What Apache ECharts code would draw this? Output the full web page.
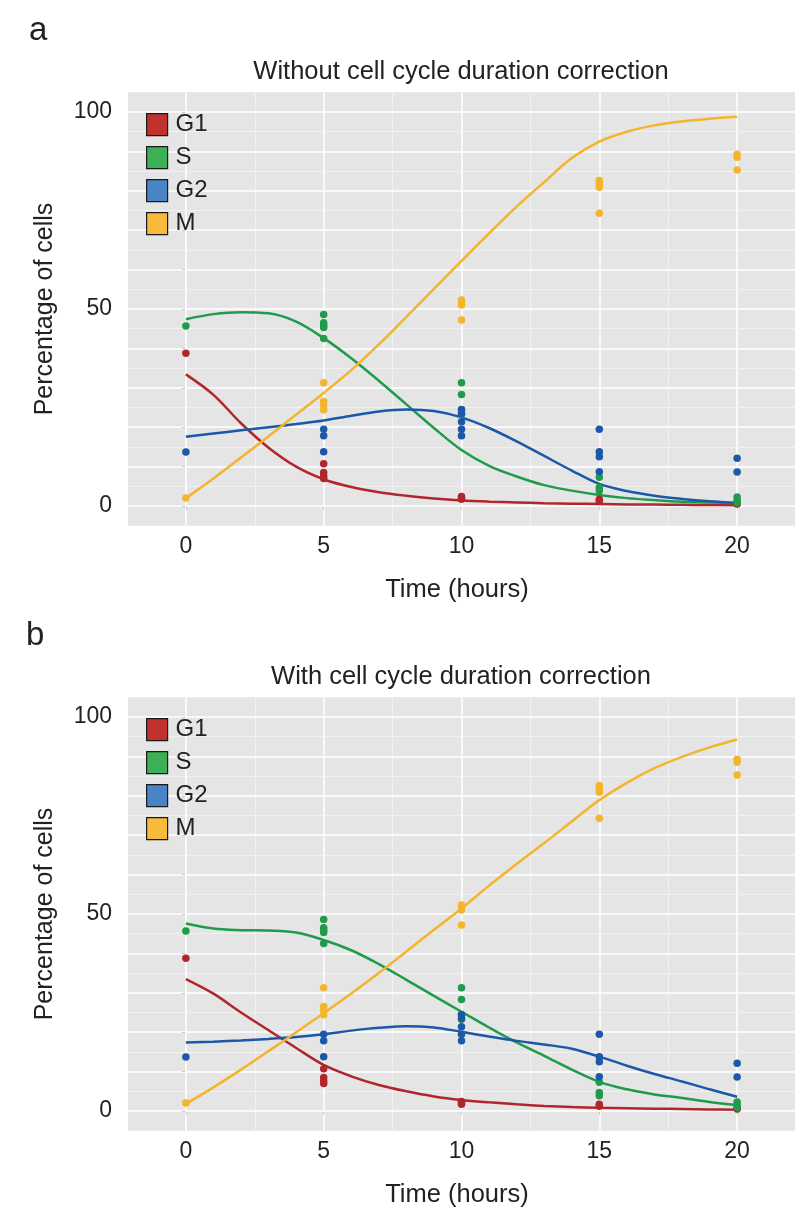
<!DOCTYPE html>
<html>
<head>
<meta charset="utf-8">
<script src="https://cdn.jsdelivr.net/npm/echarts@6/dist/echarts.min.js"></script>
<style>
html,body{margin:0;padding:0;background:#fff;}
#chart{width:800px;height:1209px;}
</style>
</head>
<body>
<div id="chart"></div>
<script>
// ---- Data ----
const phases = ['G1', 'S', 'G2', 'M'];
const times = [0, 5, 10, 15, 20];
// observed replicate values at each time point
const g1Obs = [[38.8], [10.7, 8.5, 7.6, 7.0], [2.4, 1.7, 2.0], [1.7, 1.2], [0.7, 0.5]];
const sObs  = [[45.7], [48.6, 46.5, 45.9, 45.3, 42.5], [31.3, 28.3, 24.5, 23.3], [7.3, 4.7, 3.9], [2.3, 1.4, 0.8]];
const g2Obs = [[13.7], [19.5, 17.8, 13.8], [24.4, 23.5, 21.4, 19.5, 17.8], [19.5, 13.8, 12.5, 8.7], [12.1, 8.6]];
const mObs  = [[2.0], [31.3, 26.5, 25.6, 24.4], [52.3, 51.6, 51.0, 47.2], [82.6, 81.7, 80.9, 74.3], [89.3, 88.5, 85.3]];

// model curves
const curveTimes = [0,1,2,3,4,5,6,7,8,9,10,11,12,13,14,15,16,17,18,19,20];
const topG1 = [33.4,28.2,21.0,14.8,10.0,6.8,4.8,3.5,2.6,1.9,1.4,1.1,0.9,0.7,0.6,0.5,0.4,0.35,0.3,0.25,0.2];
const topS  = [47.4,48.7,49.2,48.9,46.8,42.6,37.5,31.8,25.8,19.8,14.2,10.2,7.5,5.3,3.9,2.8,2.0,1.5,1.1,0.9,0.7];
const topG2 = [17.6,18.4,19.2,20.0,20.8,21.7,22.9,24.0,24.5,24.1,22.5,19.8,16.4,12.7,9.0,5.6,3.8,2.6,1.8,1.2,0.8];
const topM  = [2.0,7.0,12.3,17.7,23.2,28.7,34.5,41.0,48.0,55.1,62.2,69.2,76.0,82.2,88.3,92.5,95.0,96.6,97.6,98.3,98.8];

const botG1 = [33.5,29.8,25.0,20.5,16.0,11.7,8.8,6.6,5.0,3.7,2.8,2.2,1.7,1.3,1.0,0.8,0.7,0.6,0.5,0.4,0.3];
const botS  = [47.6,46.3,45.9,45.8,45.3,43.4,40.8,37.3,33.3,29.2,25.2,21.2,17.4,14.0,10.5,7.4,5.5,4.2,3.3,2.3,1.5];
const botG2 = [17.4,17.6,17.9,18.3,18.8,19.5,20.4,21.1,21.5,21.2,20.1,18.9,17.8,16.9,15.8,13.8,11.5,9.4,7.5,5.5,3.6];
const botM  = [1.8,6.0,10.5,15.2,20.0,24.8,29.8,35.0,40.5,46.0,51.4,57.2,62.7,68.0,73.5,78.9,83.3,87.0,89.9,92.3,94.3];

// axis ticks / labels / grid lines
const xTicks = [0, 5, 10, 15, 20];
const xMinor = [2.5, 7.5, 12.5, 17.5];
const yTicks = [0, 10, 20, 30, 40, 50, 60, 70, 80, 90, 100];
const yLabels = [0, 50, 100];
const yMinor = [5, 15, 25, 35, 45, 55, 65, 75, 85, 95];

const titles = ['Without cell cycle duration correction', 'With cell cycle duration correction'];
const panelLetters = ['a', 'b'];

// ---- Styles ----
const FONT = '"Liberation Sans", Arial, Helvetica, sans-serif';
const lineColors = {G1: '#b0262c', S: '#1f9b4b', G2: '#1b58a8', M: '#f3b52b'};
const legendColors = {G1: '#c1312e', S: '#3daf57', G2: '#4a84c6', M: '#f6bb3a'};

function pts(obs) {
  const out = [];
  obs.forEach((vals, i) => vals.forEach(v => out.push([times[i], v])));
  return out;
}
function curve(vals) { return curveTimes.map((t, i) => [t, vals[i]]); }

const obsByPhase = {G1: g1Obs, S: sObs, G2: g2Obs, M: mObs};
const curvesByPanel = [
  {G1: topG1, S: topS, G2: topG2, M: topM},
  {G1: botG1, S: botS, G2: botG2, M: botM}
];

const gridTops = [92.3, 697.3];
const gridH = 433.4;
const gridLeft = 128;
const gridW = 667;

const grids = [], xAxes = [], yAxes = [], series = [], legends = [], graphics = [];

gridTops.forEach((top, p) => {
  grids.push({left: gridLeft, top: top, width: gridW, height: gridH, show: true,
    backgroundColor: '#e5e5e5', borderWidth: 0, containLabel: false});
  xAxes.push({type: 'value', gridIndex: p, min: -2.1, max: 22.1,
    splitLine: {show: false}, axisLine: {show: false},
    axisTick: {show: true, length: 4, lineStyle: {color: '#333', width: 1}, customValues: xTicks},
    axisLabel: {customValues: xTicks, fontSize: 23, color: '#222', margin: 9, fontFamily: FONT}});
  yAxes.push({type: 'value', gridIndex: p, min: -5, max: 105,
    splitLine: {show: false}, axisLine: {show: false},
    axisTick: {show: true, length: 4, lineStyle: {color: '#333', width: 1}, customValues: yTicks},
    axisLabel: {customValues: yLabels, fontSize: 23, color: '#222', margin: 16, fontFamily: FONT}});

  // background grid lines
  const gl = [];
  xTicks.forEach(v => gl.push({xAxis: v, lineStyle: {width: 1.5, color: '#ffffff'}}));
  xMinor.forEach(v => gl.push({xAxis: v, lineStyle: {width: 0.8, color: '#f4f4f4'}}));
  yTicks.forEach(v => gl.push({yAxis: v, lineStyle: {width: 1.5, color: '#ffffff'}}));
  yMinor.forEach(v => gl.push({yAxis: v, lineStyle: {width: 0.8, color: '#f4f4f4'}}));
  series.push({type: 'line', name: '_grid' + p, xAxisIndex: p, yAxisIndex: p, data: [], z: 1,
    silent: true,
    markLine: {silent: true, z: 1, symbol: ['none', 'none'], label: {show: false}, animation: false,
      emphasis: {disabled: true}, lineStyle: {type: 'solid', color: '#fff'}, data: gl}});

  phases.forEach(ph => {
    series.push({type: 'line', name: ph, xAxisIndex: p, yAxisIndex: p, data: curve(curvesByPanel[p][ph]),
      smooth: 0.35, showSymbol: false, symbol: 'none', z: 2,
      lineStyle: {color: lineColors[ph], width: 2.5}, itemStyle: {color: lineColors[ph]}});
  });
  phases.forEach(ph => {
    series.push({type: 'scatter', name: ph, xAxisIndex: p, yAxisIndex: p, data: pts(obsByPhase[ph]),
      symbolSize: 7.5, z: 3, itemStyle: {color: lineColors[ph], opacity: 1}});
  });

  legends.push({orient: 'vertical', left: 146, top: top + 20.4, itemWidth: 21, itemHeight: 22, itemGap: 9,
    selectedMode: false, padding: 0, z: 6,
    textStyle: {fontSize: 24, color: '#222', fontFamily: FONT, padding: [0, 0, 0, 3]},
    data: phases.map(ph => ({name: ph, icon: 'rect',
      itemStyle: {color: legendColors[ph], borderColor: '#1a1a1a', borderWidth: 1.2}}))});

  const offs = p * 605;
  graphics.push({type: 'text', x: 461, y: 72 + offs,
    style: {text: titles[p], font: '25.5px ' + FONT, fill: '#222', textAlign: 'center', textVerticalAlign: 'middle'}});
  graphics.push({type: 'text', x: 457, y: 590 + offs,
    style: {text: 'Time (hours)', font: '25.5px ' + FONT, fill: '#222', textAlign: 'center', textVerticalAlign: 'middle'}});
  graphics.push({type: 'text', x: 45, y: 309 + offs, rotation: Math.PI / 2,
    style: {text: 'Percentage of cells', font: '25px ' + FONT, fill: '#222', textAlign: 'center', textVerticalAlign: 'middle'}});
});
graphics.push({type: 'text', x: 29, y: 31,
  style: {text: panelLetters[0], font: '33px ' + FONT, fill: '#222', textAlign: 'left', textVerticalAlign: 'middle'}});
graphics.push({type: 'text', x: 26, y: 636,
  style: {text: panelLetters[1], font: '33px ' + FONT, fill: '#222', textAlign: 'left', textVerticalAlign: 'middle'}});

const chart = echarts.init(document.getElementById('chart'), null, {renderer: 'canvas'});
chart.setOption({
  animation: false,
  backgroundColor: '#ffffff',
  grid: grids,
  xAxis: xAxes,
  yAxis: yAxes,
  legend: legends,
  series: series,
  graphic: graphics
});
</script>
</body>
</html>
